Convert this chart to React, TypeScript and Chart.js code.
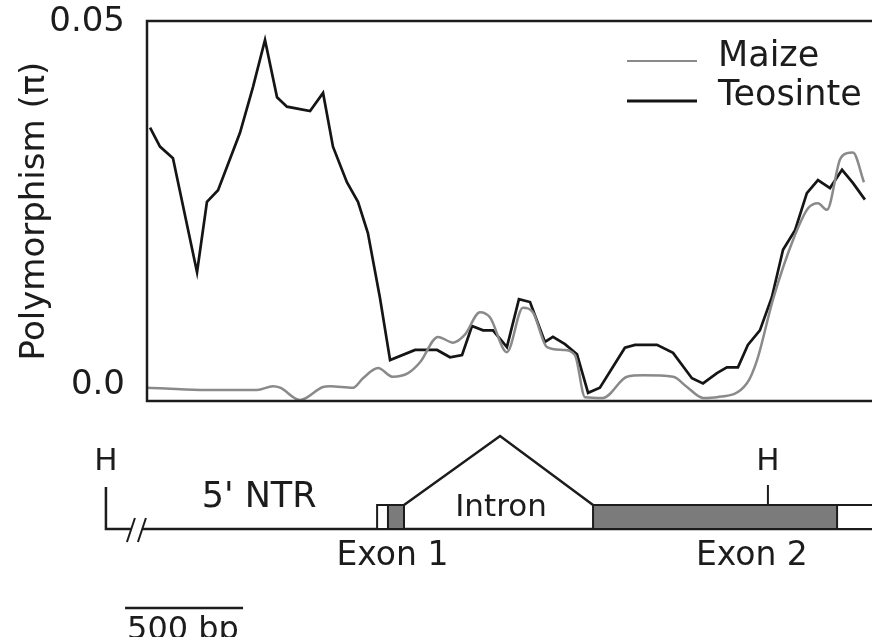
import React, { useEffect, useRef } from "react";
import { Chart, registerables } from "chart.js";

Chart.register(...registerables);

// ---- data (x = position along the locus in bp, y = nucleotide diversity π) ----
const teosintePos = [13, 55, 110, 212, 254, 301, 394, 449, 500, 551, 593, 691, 746, 788, 847, 894, 936, 987, 1030, 1136, 1229, 1284, 1335, 1377, 1424, 1466, 1525, 1576, 1623, 1686, 1720, 1771, 1822, 1869, 1919, 2025, 2068, 2161, 2229, 2309, 2356, 2415, 2457, 2504, 2546, 2597, 2648, 2695, 2746, 2796, 2843, 2894, 2945, 2991, 3042];
const teosinteVals = [0.0355, 0.0329, 0.0313, 0.0156, 0.0253, 0.0269, 0.0348, 0.0411, 0.0476, 0.0397, 0.0384, 0.0378, 0.0403, 0.0329, 0.028, 0.0253, 0.021, 0.0121, 0.0035, 0.0049, 0.0049, 0.0039, 0.0042, 0.0082, 0.0076, 0.0076, 0.0053, 0.0119, 0.0115, 0.006, 0.0067, 0.0057, 0.0043, -0.001, -0.0003, 0.0052, 0.0056, 0.0056, 0.0045, 0.001, 0.0003, 0.0017, 0.0025, 0.0025, 0.0056, 0.0076, 0.0122, 0.0187, 0.0214, 0.0265, 0.0283, 0.0272, 0.0297, 0.0279, 0.0256];

const maizePos = [4, 225, 466, 534, 564, 648, 746, 775, 873, 915, 979, 1042, 1106, 1157, 1233, 1297, 1347, 1411, 1453, 1525, 1593, 1635, 1695, 1763, 1813, 1856, 1932, 2034, 2102, 2229, 2288, 2356, 2415, 2542, 2585, 2652, 2737, 2801, 2843, 2881, 2936, 2966, 2991, 3038];
const maizeVals = [-0.0003, -0.0006, -0.0006, -0.0001, -0.0003, -0.002, -0.0002, -0.0001, -0.0003, 0.001, 0.0024, 0.0012, 0.0017, 0.0032, 0.0067, 0.0059, 0.007, 0.0101, 0.0094, 0.0046, 0.0107, 0.0101, 0.0053, 0.0049, 0.0042, -0.0016, -0.0017, 0.0012, 0.0014, 0.0012, -0.0002, -0.0017, -0.0016, 0.0003, 0.0035, 0.0118, 0.02, 0.0244, 0.0251, 0.0242, 0.0311, 0.032, 0.0321, 0.028];

const seriesNames = ["Maize", "Teosinte"];
const seriesColors = ["#8a8a8a", "#151515"];
const yTickValues = [0, 0.05];
const yTickLabels = ["0.0", "0.05"];
const yTitle = "Polymorphism (\u03c0)";

// ---- gene model (bp on the same axis) ----
const hindSites = [-174, 2631];
const exon1 = [975, 1021, 1089]; // start, UTR/CDS boundary, end
const intronApex = 1496;
const exon2 = [1890, 2924, 3300]; // start, CDS end, end
const scaleBar = [-93, 407];
const geneLabels = ["5' NTR", "Exon 1", "Intron", "Exon 2", "H", "500 bp"];

const FONT = "'DejaVu Sans', 'Liberation Sans', sans-serif";
const INK = "#1c1c1c";

const framePlugin = {
  id: "frame",
  afterDatasetsDraw(chart: any) {
    const { ctx, chartArea: a } = chart;
    ctx.save();
    ctx.strokeStyle = INK;
    ctx.lineWidth = 2.5;
    ctx.beginPath();
    ctx.moveTo(a.right + 5, a.top);
    ctx.lineTo(a.left, a.top);
    ctx.lineTo(a.left, a.bottom);
    ctx.lineTo(a.right + 5, a.bottom);
    ctx.stroke();
    ctx.restore();
  },
};

const legendPlugin = {
  id: "customLegend",
  afterDraw(chart: any) {
    const { ctx } = chart;
    const rows = [
      { y: 61, text: 57, w: 2 },
      { y: 101, text: 96, w: 3 },
    ];
    ctx.save();
    chart.data.datasets.forEach((ds: any, i: number) => {
      const r = rows[i];
      ctx.strokeStyle = ds.borderColor;
      ctx.lineWidth = r.w;
      ctx.beginPath();
      ctx.moveTo(627, r.y);
      ctx.lineTo(697, r.y);
      ctx.stroke();
      ctx.fillStyle = INK;
      ctx.font = `35px ${FONT}`;
      ctx.textAlign = "left";
      ctx.textBaseline = "middle";
      ctx.fillText(ds.label, 718, r.text);
    });
    ctx.restore();
  },
};

const genePlugin = {
  id: "geneModel",
  afterDraw(chart: any) {
    const { ctx, chartArea: a } = chart;
    const xs = chart.scales.x;
    const px = (v: number) => xs.getPixelForValue(v);
    const b = a.bottom;
    const base = b + 128;
    const boxTop = b + 104;
    ctx.save();
    ctx.strokeStyle = INK;
    ctx.lineWidth = 2.5;
    ctx.lineJoin = "miter";

    // left H site with L-shaped connector and break marks
    const h1 = px(hindSites[0]);
    ctx.beginPath();
    ctx.moveTo(h1, b + 86);
    ctx.lineTo(h1, base);
    ctx.lineTo(h1 + 25, base);
    ctx.stroke();
    ctx.lineWidth = 2;
    ctx.beginPath();
    ctx.moveTo(h1 + 21, base + 13);
    ctx.lineTo(h1 + 29, base - 11);
    ctx.moveTo(h1 + 32, base + 13);
    ctx.lineTo(h1 + 40, base - 11);
    ctx.stroke();
    ctx.lineWidth = 2.5;
    // baseline
    ctx.beginPath();
    ctx.moveTo(h1 + 36, base);
    ctx.lineTo(a.right + 10, base);
    ctx.stroke();

    // exon 1
    const e0 = px(exon1[0]), e1 = px(exon1[1]), e2 = px(exon1[2]);
    ctx.fillStyle = "#ffffff";
    ctx.fillRect(e0, boxTop, e1 - e0, base - boxTop);
    ctx.fillStyle = "#7b7b7b";
    ctx.fillRect(e1, boxTop, e2 - e1, base - boxTop);
    ctx.lineWidth = 2;
    ctx.strokeRect(e0, boxTop, e2 - e0, base - boxTop);
    ctx.beginPath();
    ctx.moveTo(e1, boxTop);
    ctx.lineTo(e1, base);
    ctx.stroke();

    // exon 2
    const f0 = px(exon2[0]), f1 = px(exon2[1]), f2 = px(exon2[2]);
    ctx.fillStyle = "#7b7b7b";
    ctx.fillRect(f0, boxTop, f1 - f0, base - boxTop);
    ctx.fillStyle = "#ffffff";
    ctx.fillRect(f1, boxTop, f2 - f1, base - boxTop);
    ctx.strokeRect(f0, boxTop, f2 - f0, base - boxTop);
    ctx.beginPath();
    ctx.moveTo(f1, boxTop);
    ctx.lineTo(f1, base);
    ctx.stroke();

    // intron
    ctx.lineWidth = 2.5;
    ctx.beginPath();
    ctx.moveTo(e2, boxTop);
    ctx.lineTo(px(intronApex), b + 35);
    ctx.lineTo(f0, boxTop);
    ctx.stroke();

    // right H site tick
    const h2 = px(hindSites[1]);
    ctx.lineWidth = 2;
    ctx.beginPath();
    ctx.moveTo(h2, b + 84);
    ctx.lineTo(h2, boxTop);
    ctx.stroke();

    // labels
    ctx.fillStyle = INK;
    ctx.textAlign = "center";
    ctx.textBaseline = "middle";
    ctx.font = `31px ${FONT}`;
    ctx.fillText(geneLabels[4], h1, b + 61);
    ctx.fillText(geneLabels[4], h2, b + 61);
    ctx.font = `35px ${FONT}`;
    ctx.fillText(geneLabels[0], px(475), b + 97);
    ctx.font = `33px ${FONT}`;
    ctx.fillText(geneLabels[1], px(1040), b + 155);
    ctx.fillText(geneLabels[3], px(2563), b + 155);
    ctx.font = `31px ${FONT}`;
    ctx.fillText(geneLabels[2], px(1500), b + 107);

    // scale bar
    ctx.lineWidth = 2.5;
    ctx.beginPath();
    ctx.moveTo(px(scaleBar[0]), b + 207);
    ctx.lineTo(px(scaleBar[1]), b + 207);
    ctx.stroke();
    ctx.font = `32px ${FONT}`;
    ctx.textAlign = "left";
    ctx.textBaseline = "top";
    ctx.fillText(geneLabels[5], px(scaleBar[0]) + 2, b + 214);
    ctx.restore();
  },
};

export default function App() {
  const ref = useRef<HTMLCanvasElement | null>(null);

  useEffect(() => {
    if (!ref.current) return;
    const chart = new Chart(ref.current, {
      type: "line",
      data: {
        datasets: [
          {
            label: seriesNames[0],
            data: maizePos.map((x, i) => ({ x, y: maizeVals[i] })),
            borderColor: seriesColors[0],
            borderWidth: 2.5,
            pointRadius: 0,
            cubicInterpolationMode: "monotone",
            fill: false,
          },
          {
            label: seriesNames[1],
            data: teosintePos.map((x, i) => ({ x, y: teosinteVals[i] })),
            borderColor: seriesColors[1],
            borderWidth: 2.7,
            pointRadius: 0,
            tension: 0,
            fill: false,
          },
        ],
      },
      options: {
        animation: false,
        responsive: false,
        devicePixelRatio: 1,
        layout: { padding: { left: 0, top: 21, right: 0, bottom: 236 } },
        plugins: {
          legend: { display: false },
          tooltip: { enabled: false },
        },
        scales: {
          x: {
            type: "linear",
            min: 0,
            max: 3072,
            display: false,
          },
          y: {
            min: -0.00213,
            max: 0.0502,
            grid: { display: false },
            border: { display: false },
            afterBuildTicks: (scale: any) => {
              scale.ticks = yTickValues.map((v) => ({ value: v }));
            },
            afterFit: (scale: any) => {
              scale.width = 147;
              scale.paddingTop = 0;
              scale.paddingBottom = 0;
            },
            ticks: {
              padding: 14,
              color: INK,
              font: { family: FONT, size: 34, lineHeight: 1 },
              callback: (v: any) => {
                const i = yTickValues.indexOf(Number(v));
                return i >= 0 ? yTickLabels[i] : "";
              },
            },
            title: {
              display: true,
              text: yTitle,
              color: INK,
              font: { family: FONT, size: 34, lineHeight: 1.2 },
              padding: { top: 15, bottom: 0 },
            },
          },
        },
      },
      plugins: [framePlugin, legendPlugin, genePlugin],
    } as any);
    return () => chart.destroy();
  }, []);

  return (
    <div style={{ position: "absolute", left: 0, top: 0, width: 872, height: 637, overflow: "hidden", background: "#fff" }}>
      <canvas ref={ref} width={872} height={637} style={{ display: "block" }} />
    </div>
  );
}
